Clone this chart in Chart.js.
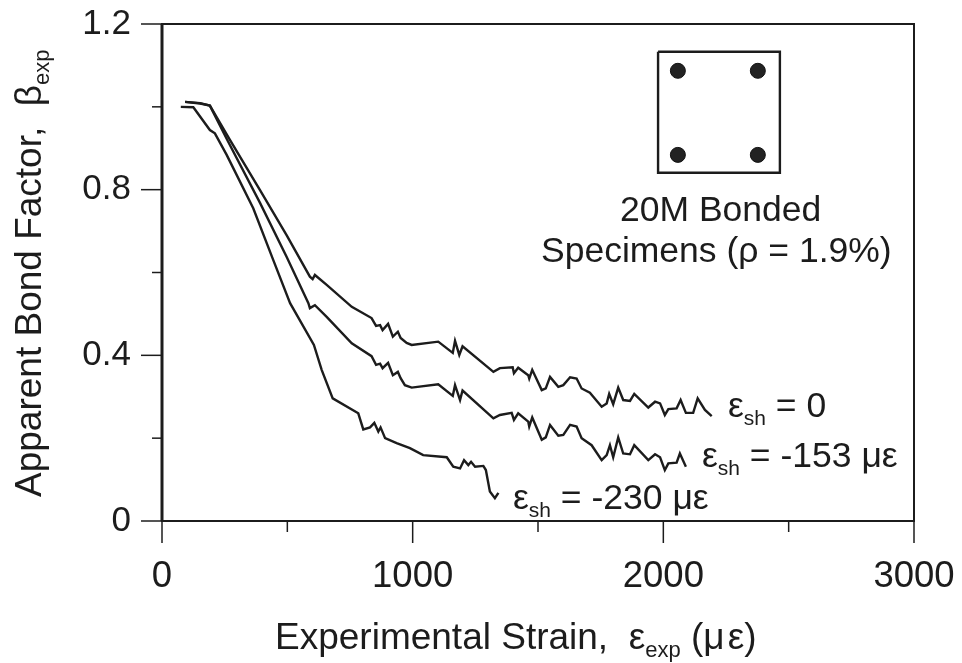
<!DOCTYPE html>
<html>
<head>
<meta charset="utf-8">
<script src="https://cdn.jsdelivr.net/npm/chart.js@4"></script>
<style>
  html, body { margin: 0; padding: 0; background: #fff; }
  canvas { display: block; }
</style>
</head>
<body>
<canvas id="grafica" width="962" height="663"></canvas>
<script>
// =======================================================
// DATA
// =======================================================
const strain0 = [92,152,191,271,391,497,590,601,610,657,757,836,854,870,880,902,921,941,952,976,996,1102,1160,1169,1186,1199,1322,1348,1399,1404,1421,1461,1465,1477,1515,1531,1548,1581,1601,1628,1654,1674,1707,1754,1774,1784,1800,1820,1840,1867,1884,1940,1967,1987,2006,2020,2053,2069,2090,2119,2137,2166,2193];
const beta0 = [1.012,1.008,1.003,.920,.799,.690,.590,.584,.594,.570,.517,.490,.471,.473,.461,.476,.445,.457,.442,.430,.425,.433,.406,.435,.401,.422,.360,.369,.371,.357,.370,.352,.344,.365,.316,.320,.348,.324,.328,.347,.344,.320,.310,.276,.284,.307,.282,.322,.292,.290,.307,.274,.288,.284,.256,.270,.272,.292,.261,.261,.296,.268,.253];

const strain153 = [92,152,191,263,391,497,584,590,610,657,757,836,854,870,880,902,921,941,952,969,996,1102,1160,1169,1189,1199,1322,1348,1395,1404,1421,1461,1465,1477,1515,1531,1548,1581,1601,1628,1654,1674,1714,1754,1774,1787,1800,1820,1840,1867,1884,1940,1967,1987,2006,2020,2053,2066,2090];
const beta153 = [1.012,1.009,1.003,.917,.768,.638,.526,.514,.521,.493,.429,.398,.377,.380,.369,.382,.352,.360,.345,.328,.322,.330,.302,.328,.292,.315,.248,.256,.261,.244,.260,.240,.228,.250,.196,.202,.232,.206,.208,.232,.228,.200,.183,.147,.159,.183,.154,.202,.163,.161,.183,.147,.161,.154,.123,.139,.141,.163,.131];

const strain230 = [75,125,191,211,258,364,444,511,606,637,681,783,803,830,847,863,872,890,936,989,1042,1136,1162,1189,1205,1222,1233,1249,1282,1292,1308,1328,1342];
const beta230 = [1.000,.999,.944,.936,.884,.755,.630,.526,.425,.365,.296,.260,.221,.226,.237,.216,.226,.200,.188,.176,.159,.154,.131,.127,.147,.135,.143,.131,.133,.123,.071,.055,.068];

// Sección dibujada en el recuadro
const seccionX = [1979,2465,2465,1979,1979];
const seccionY = [1.133,1.133,.841,.841,1.133];
const barrasX = [2058,2377,2058,2377];
const barrasY = [1.087,1.087,.884,.884];

const ticksX = [0,500,1000,1500,2000,2500,3000];
const etiquetasX = [0,1000,2000,3000];
const ticksY = [0,.2,.4,.6,.8,1,1.2];
const etiquetasY = [0,.4,.8,1.2];

const FUENTE = '"Liberation Sans", Arial, sans-serif';
const COLOR = "#1c1c1c";
const TAM = 35.5;
const TAM_EJE = 37;
const TAM_TICKS = 36.5;

const puntos = (xs, ys) => xs.map((x, i) => ({ x, y: ys[i] }));

const serie = (xs, ys) => ({
    data: puntos(xs, ys),
    showLine: true,
    borderColor: COLOR,
    borderWidth: 2.4,
    pointRadius: 0,
    tension: 0
});

// Quita el margen extra que Chart.js reserva para las etiquetas
function fijar(s, campo, valor) {
    s[campo] = valor;
    s.paddingTop = s.paddingBottom = s.paddingLeft = s.paddingRight = 0;
}

// Escribe trozos de texto seguidos, con subíndices
function escribir(ctx, x, y, tam, trozos) {
    ctx.textAlign = "left";
    ctx.textBaseline = "alphabetic";
    ctx.fillStyle = COLOR;
    trozos.forEach(t => {
        const sub = t[1] === "sub";
        ctx.font = `${sub ? Math.round(tam * 0.6) : tam}px ${FUENTE}`;
        ctx.fillText(t[0], x, y + (sub ? 8 : 0));
        x += ctx.measureText(t[0]).width;
    });
}

const extras = {
    id: "extras",
    afterDatasetsDraw(chart) {
        const { ctx, chartArea: a, scales: { x, y } } = chart;
        ctx.save();
        ctx.strokeStyle = COLOR;

        // Marco
        ctx.lineWidth = 2;
        ctx.strokeRect(a.left, a.top, a.right - a.left, a.bottom - a.top);
        ctx.lineWidth = 3;
        ctx.beginPath();
        ctx.moveTo(a.left, a.top);
        ctx.lineTo(a.left, a.bottom);
        ctx.stroke();

        // Marcas de los ejes
        ctx.lineWidth = 1.5;
        ticksX.forEach(v => {
            const largo = etiquetasX.includes(v) ? 22 : 11;
            ctx.beginPath();
            ctx.moveTo(x.getPixelForValue(v), a.bottom);
            ctx.lineTo(x.getPixelForValue(v), a.bottom + largo);
            ctx.stroke();
        });
        ticksY.forEach(v => {
            const largo = etiquetasY.includes(v) ? 21 : 10;
            ctx.beginPath();
            ctx.moveTo(a.left, y.getPixelForValue(v));
            ctx.lineTo(a.left - largo, y.getPixelForValue(v));
            ctx.stroke();
        });

        // Textos
        escribir(ctx, 275, 649, TAM_EJE, [["Experimental Strain,  "], ["ε"], ["exp", "sub"], [" (μ\u200aε)"]]);
        escribir(ctx, 728, 417, TAM, [["ε"], ["sh", "sub"], [" = 0"]]);
        escribir(ctx, 702, 467, TAM, [["ε"], ["sh", "sub"], [" = -153 με"]]);
        escribir(ctx, 513, 509, TAM, [["ε"], ["sh", "sub"], [" = -230 με"]]);
        escribir(ctx, 620, 221, TAM, [["20M Bonded"]]);
        escribir(ctx, 541, 262, TAM, [["Specimens (ρ = 1.9%)"]]);

        ctx.translate(41, 497);
        ctx.rotate(-Math.PI / 2);
        escribir(ctx, 0, 0, TAM_EJE, [["Apparent Bond Factor,  "], ["β"], ["exp", "sub"]]);
        ctx.restore();
    }
};

new Chart(document.getElementById("grafica").getContext("2d"), {
    type: "scatter",
    data: {
        datasets: [
            serie(strain0, beta0),
            serie(strain153, beta153),
            serie(strain230, beta230),
            serie(seccionX, seccionY),
            {
                data: puntos(barrasX, barrasY),
                backgroundColor: "#222",
                borderColor: "#111",
                pointRadius: 7.5,
                borderWidth: 1
            }
        ]
    },
    options: {
        responsive: false,
        animation: false,
        layout: { padding: { top: 24, right: 48 } },
        plugins: { legend: { display: false }, tooltip: { enabled: false } },
        scales: {
            x: {
                type: "linear",
                min: 0,
                max: 3000,
                afterFit: s => fijar(s, "height", 142),
                afterBuildTicks: s => { s.ticks = etiquetasX.map(value => ({ value })); },
                grid: { display: false, drawTicks: false },
                border: { display: false },
                ticks: {
                    color: COLOR,
                    padding: 34,
                    maxRotation: 0,
                    font: { family: FUENTE, size: TAM_TICKS },
                    callback: v => String(v)
                }
            },
            y: {
                min: 0,
                max: 1.2,
                afterFit: s => fijar(s, "width", 162),
                afterBuildTicks: s => { s.ticks = etiquetasY.map(value => ({ value })); },
                grid: { display: false, drawTicks: false },
                border: { display: false },
                ticks: {
                    color: COLOR,
                    padding: 31,
                    font: { family: FUENTE, size: 35 },
                    callback: v => String(v)
                }
            }
        }
    },
    plugins: [extras]
});
</script>
</body>
</html>
